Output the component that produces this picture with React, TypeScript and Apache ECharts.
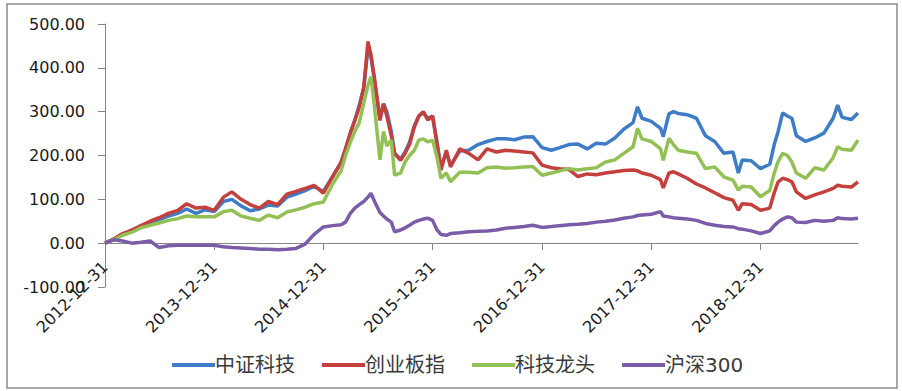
import React, { useEffect, useRef } from "react";
import * as echarts from "echarts";

const dates = [
  "2012-12-31", "2013-01-31", "2013-02-28", "2013-03-31", "2013-04-30", "2013-05-31", "2013-06-30", "2013-07-31",
  "2013-08-31", "2013-09-30", "2013-10-31", "2013-11-30", "2013-12-31", "2014-01-31", "2014-02-28", "2014-03-31",
  "2014-04-30", "2014-05-31", "2014-06-30", "2014-07-31", "2014-08-31", "2014-09-30", "2014-10-31", "2014-11-30",
  "2014-12-31", "2015-01-31", "2015-02-28", "2015-03-15", "2015-03-31", "2015-04-15", "2015-04-30", "2015-05-15",
  "2015-05-29", "2015-06-08", "2015-06-20", "2015-07-08", "2015-07-20", "2015-07-31", "2015-08-15", "2015-08-26",
  "2015-09-15", "2015-09-30", "2015-10-15", "2015-10-31", "2015-11-15", "2015-11-30", "2015-12-15", "2015-12-31",
  "2016-01-15", "2016-01-28", "2016-02-15", "2016-02-29", "2016-03-31", "2016-04-30", "2016-05-31", "2016-06-30",
  "2016-07-31", "2016-08-31", "2016-09-30", "2016-10-31", "2016-11-30", "2016-12-31", "2017-01-31", "2017-02-28",
  "2017-03-31", "2017-04-30", "2017-05-31", "2017-06-30", "2017-07-31", "2017-08-31", "2017-09-30", "2017-10-31",
  "2017-11-15", "2017-11-30", "2017-12-31", "2018-01-31", "2018-02-09", "2018-02-28", "2018-03-15", "2018-03-31",
  "2018-04-30", "2018-05-31", "2018-06-30", "2018-07-31", "2018-08-31", "2018-09-30", "2018-10-18", "2018-10-31",
  "2018-11-30", "2018-12-31", "2019-01-31", "2019-02-15", "2019-02-28", "2019-03-15", "2019-03-31", "2019-04-15",
  "2019-04-30", "2019-05-31", "2019-06-30", "2019-07-31", "2019-08-31", "2019-09-15", "2019-09-30", "2019-10-31",
  "2019-11-22",
];

const zzkj = [
  0, 10, 20, 30, 38, 47, 54, 62, 68, 78, 68, 76, 72, 95, 100, 85,
  74, 78, 87, 85, 105, 112, 120, 130, 118, 152, 185, 215, 252, 280, 315, 355,
  445, 425, 370, 285, 318, 300, 255, 205, 192, 208, 230, 268, 290, 298, 285, 290,
  230, 172, 208, 178, 210, 212, 225, 232, 238, 238, 236, 242, 243, 218, 212, 218,
  225, 226, 215, 228, 226, 240, 260, 275, 311, 285, 278, 262, 243, 295, 300, 296,
  293, 285, 245, 232, 205, 208, 160, 190, 188, 170, 180, 225, 255, 297, 290, 285,
  245, 232, 240, 251, 285, 315, 287, 282, 297,
];

const cybz = [
  0, 10, 22, 30, 40, 50, 58, 68, 75, 90, 80, 82, 75, 105, 117, 100,
  88, 80, 95, 88, 112, 118, 125, 132, 114, 152, 183, 215, 251, 280, 310, 355,
  460, 430, 375, 280, 318, 290, 245, 205, 189, 205, 225, 265, 290, 300, 281, 290,
  225, 167, 212, 174, 215, 205, 190, 215, 208, 212, 210, 208, 206, 178, 172, 170,
  168, 152, 158, 156, 160, 163, 166, 167, 165, 160, 155, 145, 126, 160, 163, 158,
  148, 135, 126, 115, 104, 98, 75, 90, 88, 75, 80, 115, 140, 148, 145, 140,
  117, 102, 110, 117, 125, 132, 130, 128, 140,
];

const kjlt = [
  0, 8, 18, 25, 35, 41, 46, 52, 56, 62, 60, 60, 60, 72, 75, 62,
  57, 52, 64, 58, 71, 76, 82, 90, 94, 135, 165, 200, 230, 255, 275, 320,
  360, 380, 310, 190, 255, 222, 235, 155, 160, 185, 200, 212, 235, 238, 231, 235,
  195, 148, 160, 140, 162, 162, 160, 172, 174, 171, 172, 174, 175, 155, 160, 165,
  170, 167, 170, 172, 185, 190, 205, 220, 262, 238, 232, 215, 189, 239, 225, 212,
  208, 205, 170, 174, 151, 144, 121, 130, 128, 106, 120, 160, 186, 205, 200, 185,
  160, 148, 172, 167, 195, 220, 214, 212, 235,
];

const hs300 = [
  0, 8, 5, 0, 2, 5, -10, -6, -5, -5, -5, -5, -5, -8, -10, -11,
  -12, -14, -14, -15, -14, -12, -2, 20, 37, 40, 42, 48, 68, 80, 88, 95,
  105, 114, 95, 70, 62, 55, 48, 26, 30, 35, 41, 48, 52, 55, 57, 52,
  30, 20, 18, 22, 24, 26, 27, 28, 30, 34, 36, 38, 41, 36, 38, 40,
  42, 43, 45, 48, 50, 53, 57, 60, 63, 64, 66, 72, 62, 60, 58, 57,
  55, 52, 45, 41, 38, 37, 33, 32, 28, 22, 28, 40, 48, 55, 60, 58,
  48, 47, 52, 50, 52, 58, 56, 55, 57,
];

const seriesNames = ["中证科技", "创业板指", "科技龙头", "沪深300"];
const seriesColors = ["#3E7DC6", "#C4403D", "#93C054", "#7B5CA8"];
const xTickLabels = [
  "2012-12-31", "2013-12-31", "2014-12-31", "2015-12-31",
  "2016-12-31", "2017-12-31", "2018-12-31",
];
const yMin = -100;
const yMax = 500;
const yStep = 100;

const toTs = (d: string) =>
  Date.UTC(+d.slice(0, 4), +d.slice(5, 7) - 1, +d.slice(8, 10));
const pad = (n: number) => (n < 10 ? "0" + n : "" + n);
const fmtDate = (v: number) => {
  const d = new Date(v);
  return `${d.getUTCFullYear()}-${pad(d.getUTCMonth() + 1)}-${pad(d.getUTCDate())}`;
};

export default function App() {
  const ref = useRef<HTMLDivElement>(null);
  useEffect(() => {
    if (!ref.current) return;
    const chart = echarts.init(ref.current, undefined, { renderer: "svg" });
    const allValues = [zzkj, cybz, kjlt, hs300];
    const tickValues = xTickLabels.map(toTs);
    const axisColor = "#868686";
    const gridTop = 24;
    const gridBottom = 104;
    const plotH = 391 - gridTop - gridBottom;
    // distance from the grid bottom up to the value 0
    const zeroOffset = ((0 - yMin) / (yMax - yMin)) * plotH;
    chart.setOption({
      animation: false,
      backgroundColor: "#ffffff",
      color: seriesColors,
      graphic: [
        {
          type: "rect",
          shape: { x: 7, y: 4, width: 890, height: 384 },
          style: { fill: "none", stroke: "#8c8c8c", lineWidth: 1.5 },
          silent: true,
        },
      ],
      grid: { left: 105, right: 44, top: gridTop, bottom: gridBottom, containLabel: false },
      legend: {
        left: 167,
        top: 350,
        icon: "rect",
        itemWidth: 43,
        itemHeight: 4,
        itemGap: 27,
        data: seriesNames,
        textStyle: {
          fontSize: 20,
          color: "#3a3a3a",
          padding: [0, 0, 0, -5],
          fontFamily: "DejaVu Sans, Noto Sans CJK SC, sans-serif",
        },
      },
      xAxis: {
        type: "value",
        position: "bottom",
        offset: -zeroOffset,
        min: toTs(dates[0]),
        max: toTs(dates[dates.length - 1]),
        splitLine: { show: false },
        axisLine: { show: true, onZero: false, lineStyle: { color: axisColor, width: 1 } },
        axisTick: {
          show: true,
          length: 7,
          customValues: tickValues,
          lineStyle: { color: axisColor },
        },
        axisLabel: {
          customValues: tickValues,
          formatter: (v: number) => fmtDate(v),
          rotate: 45,
          margin: 21,
          fontSize: 16,
          color: "#1a1a1a",
          fontFamily: "DejaVu Sans, sans-serif",
          hideOverlap: false,
        },
      },
      yAxis: {
        type: "value",
        min: yMin,
        max: yMax,
        interval: yStep,
        splitLine: { show: false },
        axisLine: { show: true, lineStyle: { color: axisColor, width: 1 } },
        axisTick: { show: true, length: 7, lineStyle: { color: axisColor } },
        axisLabel: {
          formatter: (v: number) => v.toFixed(2),
          margin: 20,
          fontSize: 16,
          color: "#1a1a1a",
          fontFamily: "DejaVu Sans, sans-serif",
        },
      },
      series: seriesNames.map((name, si) => ({
        name,
        type: "line",
        symbol: "none",
        showSymbol: false,
        lineStyle: { width: 3.5, color: seriesColors[si] },
        itemStyle: { color: seriesColors[si] },
        data: dates.map((d, i) => [toTs(d), allValues[si][i]]),
      })),
    });
    return () => chart.dispose();
  }, []);
  return (
    <div
      ref={ref}
      style={{ position: "fixed", left: 0, top: 0, width: 902, height: 391, background: "#fff" }}
    />
  );
}
